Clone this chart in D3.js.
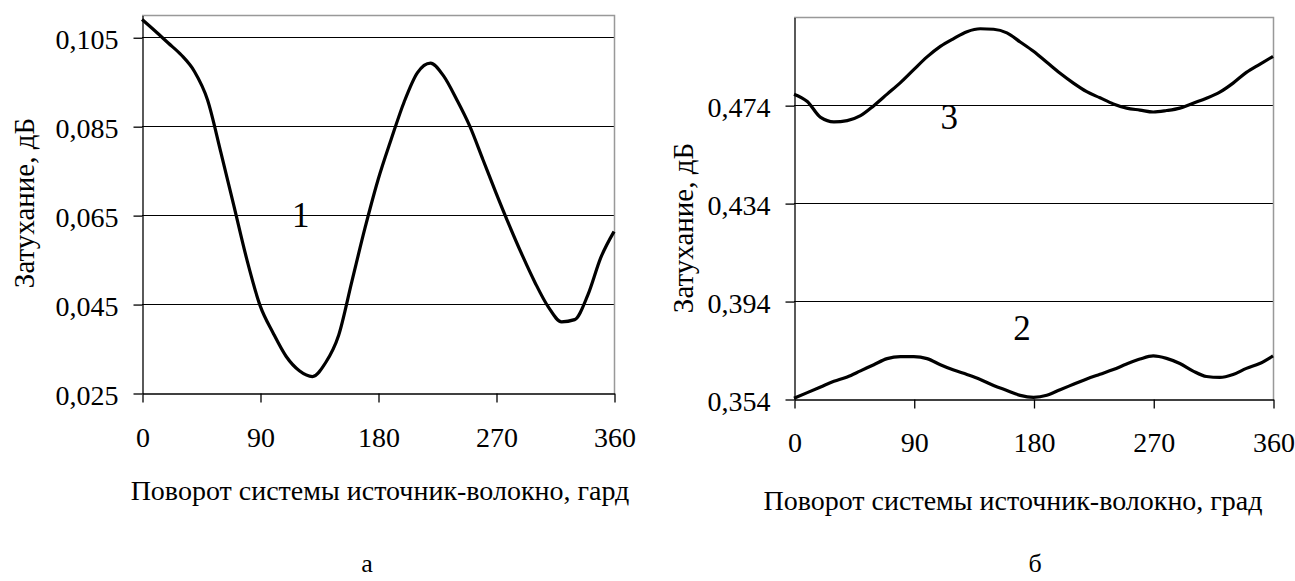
<!DOCTYPE html>
<html>
<head>
<meta charset="utf-8">
<script src="https://cdn.jsdelivr.net/npm/d3@7"></script>
<style>
  body { margin: 0; background: #fff; }
  svg { display: block; }
  text { font-family: "Liberation Serif", "Times New Roman", serif; fill: #000; }
</style>
</head>
<body>
<script>
// panel "а" - curve 1
const angles1 = [0, 10, 20, 30, 40, 50, 60, 70, 80, 90, 100, 110, 120, 130, 140, 150, 160, 170, 180,
                 190, 200, 210, 220, 230, 240, 250, 260, 270, 280, 290, 300, 310, 320, 330, 340, 350, 360];
const loss1 = [0.109, 0.1064, 0.1037, 0.1010, 0.0973, 0.0909, 0.0793, 0.0672, 0.0550, 0.0447, 0.0385,
               0.0332, 0.0300, 0.0287, 0.0318, 0.0380, 0.0500, 0.0620, 0.0729, 0.0820, 0.0905, 0.0970,
               0.0992, 0.0963, 0.0910, 0.0850, 0.0775, 0.0700, 0.0628, 0.0560, 0.0497, 0.0443, 0.0410,
               0.0415, 0.0470, 0.0555, 0.0613];
const yTicks1 = [0.025, 0.045, 0.065, 0.085, 0.105];

// panel "б" - curves 2 and 3
const angles23 = [0, 10, 20, 30, 40, 50, 60, 70, 80, 90, 100, 110, 120, 130, 140, 150, 160, 170, 180,
                  190, 200, 210, 220, 230, 240, 250, 260, 270, 280, 290, 300, 310, 320, 330, 340, 350, 360];
const loss3 = [0.4785, 0.4755, 0.4690, 0.4672, 0.4677, 0.4697, 0.4738, 0.4785, 0.4832, 0.4885, 0.4937,
               0.4980, 0.5012, 0.5040, 0.5052, 0.5050, 0.5035, 0.4998, 0.4960, 0.4915, 0.4870, 0.4830,
               0.4795, 0.4770, 0.4745, 0.4728, 0.4720, 0.4712, 0.4718, 0.4728, 0.4748, 0.4768, 0.4793,
               0.4830, 0.4874, 0.4907, 0.4939];
const loss2 = [0.3543, 0.3566, 0.3589, 0.3612, 0.3630, 0.3655, 0.3680, 0.3705, 0.3713, 0.3713, 0.3705,
               0.3680, 0.3658, 0.3640, 0.3620, 0.3595, 0.3575, 0.3555, 0.3547, 0.3555, 0.3578, 0.3600,
               0.3622, 0.3641, 0.3660, 0.3683, 0.3703, 0.3716, 0.3706, 0.3685, 0.3654, 0.3632, 0.3628,
               0.3640, 0.3665, 0.3685, 0.3716];
const yTicks23 = [0.354, 0.394, 0.434, 0.474];

const xTicks = [0, 90, 180, 270, 360];
const xTitle1 = 'Поворот системы источник-волокно, гард';
const xTitle2 = 'Поворот системы источник-волокно, град';
const yTitle = 'Затухание, дБ';

const svg = d3.select('body').append('svg')
    .attr('width', 1295)
    .attr('height', 581);
svg.append('rect').attr('width', 1295).attr('height', 581).attr('fill', '#fff');

const comma = f => v => f(v).replace('.', ',');

function panel(p) {
  const x = d3.scaleLinear().domain([0, 360]).range([p.left, p.left + p.width]);
  const y = d3.scaleLinear().domain(p.yDomain).range([p.top + p.height, p.top]);
  const g = svg.append('g');

  // gridlines
  g.append('g').selectAll('line')
      .data(p.yTicks.slice(1))
      .enter()
    .append('line')
      .attr('x1', p.left).attr('x2', p.left + p.width)
      .attr('y1', d => Math.round(y(d)) + 0.5).attr('y2', d => Math.round(y(d)) + 0.5)
      .attr('stroke', '#000').attr('stroke-width', 1);

  // top and right frame (gray)
  g.append('path')
      .attr('d', `M${p.left},${p.top + 0.5}H${p.left + p.width + 0.5}V${p.top + p.height}`)
      .attr('fill', 'none').attr('stroke', '#999').attr('stroke-width', 1.5);

  // axes
  const yAxis = d3.axisLeft(y).tickValues(p.yTicks).tickFormat(comma(d3.format('.3f')))
      .tickSize(9).tickSizeOuter(0).tickPadding(p.yPad);
  const xAxis = d3.axisBottom(x).tickValues(xTicks).tickFormat(d3.format('d'))
      .tickSize(9).tickSizeOuter(0).tickPadding(p.xPad);

  const ya = g.append('g')
      .attr('transform', `translate(${p.left + 0.5},0.5)`)
      .call(yAxis);
  const xa = g.append('g')
      .attr('transform', `translate(0.5,${p.top + p.height + 0.5})`)
      .call(xAxis);
  [ya, xa].forEach(a => {
    a.selectAll('path, line').attr('stroke', '#000').attr('stroke-width', 1.3);
    a.selectAll('text').style('font-size', p.tickFont + 'px')
        .style('font-family', '"Liberation Serif", "Times New Roman", serif');
  });
  ya.selectAll('text').attr('dy', '0.38em');

  // curves
  const line = d3.line()
      .x(d => x(d[0]))
      .y(d => y(d[1]))
      .curve(d3.curveMonotoneX);
  p.series.forEach(s => {
    g.append('path')
        .datum(d3.zip(p.angles, s.values))
        .attr('d', line)
        .attr('fill', 'none')
        .attr('stroke', '#000')
        .attr('stroke-width', 3.2)
        .attr('stroke-linejoin', 'round');
    g.append('text')
        .attr('x', x(s.label[0]))
        .attr('y', y(s.label[1]))
        .attr('text-anchor', 'middle')
        .style('font-size', p.numFont + 'px')
        .text(s.name);
  });

  // axis titles
  g.append('text')
      .attr('transform', `translate(${p.yTitleX},${p.yTitleY}) rotate(-90)`)
      .attr('text-anchor', 'middle')
      .style('font-size', p.yTitleFont + 'px')
      .text(yTitle);
  g.append('text')
      .attr('x', p.xTitleX).attr('y', p.xTitleY)
      .attr('text-anchor', 'middle')
      .style('font-size', p.titleFont + 'px')
      .text(p.xTitle);
  g.append('text')
      .attr('x', p.letterX).attr('y', 572)
      .attr('text-anchor', 'middle')
      .style('font-size', '26px')
      .text(p.letter);
}

panel({
  left: 142, top: 15, width: 472, height: 378,
  yDomain: [0.025, 0.110], yTicks: yTicks1,
  angles: angles1,
  series: [{ name: '1', values: loss1, label: [121, 0.0624] }],
  tickFont: 28, numFont: 35, titleFont: 28, yTitleFont: 29, yPad: 15, xPad: 25,
  yTitleX: 34, yTitleY: 203, xTitle: xTitle1, xTitleX: 380, xTitleY: 500,
  letter: 'а', letterX: 367
});

panel({
  left: 794, top: 17, width: 479, height: 382,
  yDomain: [0.354, 0.510], yTicks: yTicks23,
  angles: angles23,
  series: [
    { name: '3', values: loss3, label: [116.6, 0.4642] },
    { name: '2', values: loss2, label: [171.4, 0.3782] }
  ],
  tickFont: 28, numFont: 35, titleFont: 28, yTitleFont: 29, yPad: 15, xPad: 24,
  yTitleX: 693, yTitleY: 228, xTitle: xTitle2, xTitleX: 1013, xTitleY: 510,
  letter: 'б', letterX: 1035
});
</script>
</body>
</html>
